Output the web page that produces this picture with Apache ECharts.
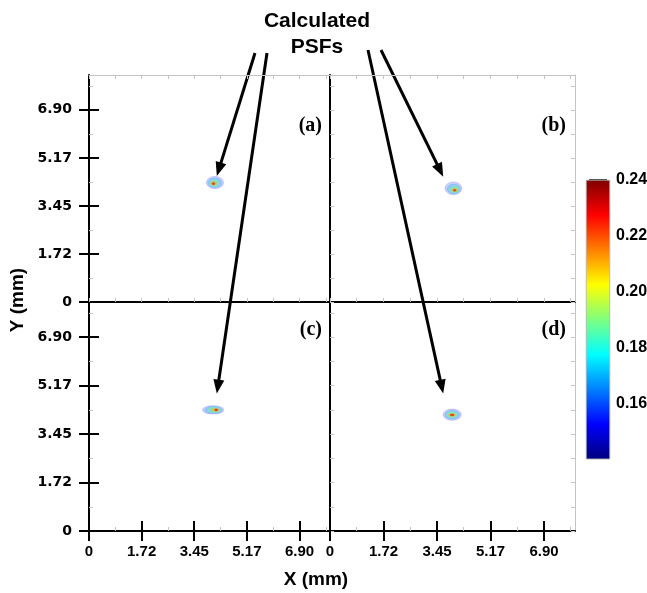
<!DOCTYPE html>
<html>
<head>
<meta charset="utf-8">
<script src="https://cdn.jsdelivr.net/npm/echarts@6/dist/echarts.min.js"></script>
<style>
  html, body { margin: 0; padding: 0; background: #fff; }
  #chart { width: 647px; height: 593px; }
</style>
</head>
<body>
<div id="chart"></div>
<script>
// Detector plane axes (mm)
const tickValues = [0, 1.725, 3.45, 5.175, 6.9];
const tickLabels = ['0', '1.72', '3.45', '5.17', '6.90'];
const xExtent = [0, 7.9];
const yExtent = [0, 8.15];

// Intensity colour scale
const levelRange = [0.14, 0.24];
const levelTicks = [0.16, 0.18, 0.20, 0.22, 0.24];
const levelTickLabels = ['0.16', '0.18', '0.20', '0.22', '0.24'];
const jetColors = ['#00007f', '#0000ff', '#007fff', '#00ffff', '#7fff7f', '#ffff00', '#ff7f00', '#ff0000', '#7f0000'];

const panelNames = ['(a)', '(b)', '(c)', '(d)'];

// Contour levels of each calculated PSF: [centre x, centre y, half-width, half-height, level]
const psfA = [
  [4.13, 4.29, 0.28, 0.22, 0.15],
  [4.12, 4.28, 0.22, 0.17, 0.17],
  [4.11, 4.27, 0.15, 0.12, 0.19],
  [4.09, 4.26, 0.09, 0.07, 0.21],
  [4.08, 4.25, 0.04, 0.035, 0.23]
];
const psfB = [
  [3.98, 4.08, 0.27, 0.23, 0.15],
  [3.99, 4.06, 0.21, 0.17, 0.17],
  [4.01, 4.04, 0.15, 0.12, 0.19],
  [4.02, 4.02, 0.09, 0.06, 0.21],
  [4.02, 4.01, 0.04, 0.03, 0.23]
];
const psfC = [
  [4.07, 4.31, 0.35, 0.15, 0.15],
  [4.08, 4.31, 0.28, 0.12, 0.17],
  [4.10, 4.31, 0.20, 0.09, 0.19],
  [4.14, 4.31, 0.12, 0.05, 0.21],
  [4.17, 4.31, 0.05, 0.03, 0.23]
];
const psfD = [
  [3.94, 4.14, 0.29, 0.20, 0.15],
  [3.94, 4.14, 0.23, 0.15, 0.17],
  [3.94, 4.14, 0.17, 0.10, 0.19],
  [3.94, 4.13, 0.11, 0.05, 0.21],
  [3.94, 4.13, 0.06, 0.025, 0.23]
];
const psfSets = [psfA, psfB, psfC, psfD];

// Where each annotation arrow points (mm, in its own panel)
const arrowTips = [[4.19, 4.52], [3.65, 4.50], [4.19, 4.89], [3.65, 4.89]];

const chart = echarts.init(document.getElementById('chart'), null, { renderer: 'canvas' });

const grids = [
  { left: 89, top: 75, width: 241, height: 227 },
  { left: 330, top: 75, width: 245, height: 227 },
  { left: 89, top: 302, width: 241, height: 229 },
  { left: 330, top: 302, width: 245, height: 229 },
  { left: 586, top: 180, width: 24, height: 279 }
].map(g => Object.assign({ containLabel: false, outerBoundsMode: 'none' }, g));

const black = '#000';
const faint = '#c4c4c4';
const minorStep = tickValues[1] / 2;
const lookup = (vals, labels) => v => {
  const i = vals.findIndex(t => Math.abs(t - v) < 1e-6);
  return i < 0 ? '' : labels[i];
};
const tickFmt = lookup(tickValues, tickLabels);

const heavyLine = { show: true, onZero: false, lineStyle: { color: black, width: 2 } };
const borderLine = { show: true, onZero: false, lineStyle: { color: faint, width: 1 } };
const faintTicks = { show: true, inside: true, length: 4, lineStyle: { color: faint, width: 1 } };
const majorOut = { show: true, inside: false, length: 10, customValues: tickValues, lineStyle: { color: black, width: 2 } };
const majorIn = { show: true, inside: true, length: 10, customValues: tickValues, lineStyle: { color: black, width: 2 } };
const minorIn = { show: true, splitNumber: 2, length: 4, lineStyle: { color: faint, width: 1 } };

const xAxes = [];
const yAxes = [];
const push = (list, o) => { list.push(Object.assign({ splitLine: { show: false } }, o)); return list.length - 1; };
const xMain = [];
const yMain = [];

for (let g = 0; g < 4; g++) {
  const bottomRow = g >= 2;
  const leftCol = g % 2 === 0;
  const xb = { type: 'value', gridIndex: g, min: xExtent[0], max: xExtent[1] };
  const yb = { type: 'value', gridIndex: g, min: yExtent[0], max: yExtent[1] };

  if (bottomRow) {
    xMain[g] = push(xAxes, Object.assign({}, xb, {
      position: 'bottom', axisLine: heavyLine, axisTick: majorOut,
      axisLabel: { show: true, customValues: tickValues, formatter: tickFmt, margin: 13,
        color: black, fontFamily: 'Liberation Sans', fontWeight: 'bold', fontSize: 15 }
    }));
    push(xAxes, Object.assign({}, xb, {
      position: 'bottom', interval: tickValues[1], axisLine: { show: false, onZero: false },
      axisLabel: { show: false }, axisTick: majorIn, minorTick: minorIn
    }));
  } else {
    xMain[g] = push(xAxes, Object.assign({}, xb, {
      position: 'bottom', interval: minorStep, axisLine: heavyLine,
      axisLabel: { show: false }, axisTick: faintTicks
    }));
    push(xAxes, Object.assign({}, xb, {
      position: 'top', interval: minorStep, axisLine: borderLine,
      axisLabel: { show: false }, axisTick: faintTicks
    }));
  }

  if (leftCol) {
    yMain[g] = push(yAxes, Object.assign({}, yb, {
      position: 'left', axisLine: heavyLine, axisTick: majorOut,
      axisLabel: { show: true, customValues: tickValues, formatter: tickFmt, margin: 17,
        color: black, fontFamily: 'DejaVu Sans', fontWeight: 'bold', fontSize: 14 }
    }));
    push(yAxes, Object.assign({}, yb, {
      position: 'left', interval: tickValues[1], axisLine: { show: false, onZero: false },
      axisLabel: { show: false }, axisTick: majorIn, minorTick: minorIn
    }));
  } else {
    yMain[g] = push(yAxes, Object.assign({}, yb, {
      position: 'left', interval: minorStep, axisLine: heavyLine,
      axisLabel: { show: false }, axisTick: faintTicks
    }));
    push(yAxes, Object.assign({}, yb, {
      position: 'right', interval: minorStep, axisLine: borderLine,
      axisLabel: { show: false }, axisTick: faintTicks
    }));
  }
}

// Colour bar axes
const cbX = push(xAxes, { type: 'category', gridIndex: 4, data: ['level'], show: false,
  axisLine: { onZero: false } });
const cbY = push(yAxes, {
  type: 'value', gridIndex: 4, min: levelRange[0], max: levelRange[1], position: 'right',
  axisLine: { show: false, onZero: false }, axisTick: { show: false },
  axisLabel: { show: true, customValues: levelTicks, formatter: lookup(levelTicks, levelTickLabels),
    margin: 6, color: black, fontFamily: 'Liberation Sans', fontWeight: 'bold', fontSize: 16 }
});
push(yAxes, {
  type: 'value', gridIndex: 4, min: levelRange[0], max: levelRange[1], position: 'right', offset: -3,
  axisLine: { show: false, onZero: false }, axisLabel: { show: false },
  axisTick: { show: true, inside: true, length: 18, customValues: levelTicks, lineStyle: { color: black, width: 1.5 } }
});

// Each contour level is a translucent ellipse; higher levels are drawn more strongly
function renderContour(params, api) {
  const c = api.coord([api.value(0), api.value(1)]);
  const s = api.size([api.value(2), api.value(3)]);
  const t = (api.value(4) - levelRange[0]) / (levelRange[1] - levelRange[0]);
  const color = api.visual('color');
  return {
    type: 'ellipse',
    shape: { cx: c[0], cy: c[1], rx: s[0], ry: s[1] },
    style: { fill: color, opacity: 0.14 + 0.5 * t, stroke: color, lineWidth: 0.8 }
  };
}

const series = psfSets.map((rings, g) => ({
  type: 'custom',
  name: panelNames[g],
  xAxisIndex: xMain[g],
  yAxisIndex: yMain[g],
  data: rings,
  encode: { x: 0, y: 1 },
  renderItem: renderContour,
  clip: false,
  silent: true
}));

series.push({
  type: 'bar',
  xAxisIndex: cbX,
  yAxisIndex: cbY,
  data: [levelRange[1]],
  barWidth: '100%',
  silent: true,
  itemStyle: {
    color: new echarts.graphic.LinearGradient(0, 1, 0, 0,
      jetColors.map((c, i) => ({ offset: i / (jetColors.length - 1), color: c }))),
    borderColor: '#b0b0b0',
    borderWidth: 0.5
  }
});

chart.setOption({
  animation: false,
  backgroundColor: '#fff',
  grid: grids,
  xAxis: xAxes,
  yAxis: yAxes,
  visualMap: {
    type: 'continuous', show: false, min: levelRange[0], max: levelRange[1],
    dimension: 4, seriesIndex: [0, 1, 2, 3], inRange: { color: jetColors }
  },
  series: series
});

// Annotation text and arrows (tails are offsets from the title centre, one per panel)
const titleX = 317;
const arrowTails = [[-62, 53], [64, 50], [-50, 53], [51, 50]];
const textStyle = (text, font, align, vAlign) => ({
  text: text, font: font, fill: black,
  align: align, textAlign: align, verticalAlign: vAlign, textVerticalAlign: vAlign
});

const graphics = [
  { type: 'text', x: titleX, y: 34, style: Object.assign(textStyle('Calculated\nPSFs', 'bold 21px "Liberation Sans"', 'center', 'middle'), { lineHeight: 26 }) },
  { type: 'text', x: 316, y: 580, style: textStyle('X (mm)', 'bold 19px "Liberation Sans"', 'center', 'middle') },
  { type: 'text', x: 18, y: 300, rotation: Math.PI / 2, style: textStyle('Y (mm)', 'bold 19px "Liberation Sans"', 'center', 'middle') }
];

const panelLabelPos = [[322, 126], [566, 126], [322, 330], [566, 330]];
panelNames.forEach((name, i) => {
  graphics.push({ type: 'text', x: panelLabelPos[i][0], y: panelLabelPos[i][1],
    style: textStyle(name, 'bold 20px "Liberation Serif"', 'right', 'middle') });
});

arrowTips.forEach((tip, i) => {
  const t = chart.convertToPixel({ seriesIndex: i }, tip);
  const s = [titleX + arrowTails[i][0], arrowTails[i][1]];
  const dx = t[0] - s[0], dy = t[1] - s[1];
  const len = Math.hypot(dx, dy);
  const ux = dx / len, uy = dy / len;
  const head = 14, half = 5.5;
  const bx = t[0] - ux * head, by = t[1] - uy * head;
  graphics.push({ type: 'line', shape: { x1: s[0], y1: s[1], x2: bx + ux * 2, y2: by + uy * 2 },
    style: { stroke: black, lineWidth: 3 } });
  graphics.push({ type: 'polygon', shape: { points: [
    [t[0], t[1]], [bx - uy * half, by + ux * half], [bx + uy * half, by - ux * half]] },
    style: { fill: black } });
});

chart.setOption({ graphic: { elements: graphics } });
</script>
</body>
</html>
